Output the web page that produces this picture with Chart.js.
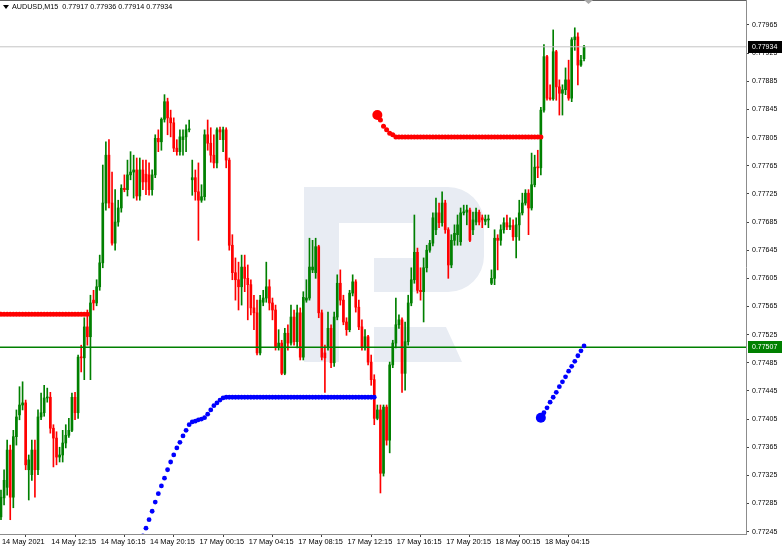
<!DOCTYPE html>
<html>
<head>
<meta charset="utf-8">
<script src="https://cdn.jsdelivr.net/npm/chart.js@4.4.1/dist/chart.umd.min.js"></script>
<style>
body { margin: 0; background: #fff; }
canvas { display: block; }
</style>
</head>
<body>
<canvas id="grafico" width="782" height="550"></canvas>
<script>
const SIMBOLO = "AUDUSD,M15"
const Y_MIN = 0.772417
const Y_MAX = 0.780005
const X_MIN = -0.32
const X_MAX = 241.5

// velas M15, uma por barra
const opens = [
	0.77266, 0.77293, 0.77308, 0.77361, 0.77294, 0.77380, 0.77411, 0.77425, 0.77428, 0.77333,
	0.77326, 0.77361, 0.77333, 0.77408, 0.77414, 0.77435, 0.77436, 0.77392, 0.77378, 0.77351,
	0.77354, 0.77371, 0.77382, 0.77389, 0.77436, 0.77414, 0.77493, 0.77492, 0.77536, 0.77522,
	0.77574, 0.77570, 0.77593, 0.77627, 0.77712, 0.77780, 0.77712, 0.77655, 0.77685, 0.77705,
	0.77733, 0.77731, 0.77752, 0.77756, 0.77759, 0.77722, 0.77759, 0.77753, 0.77752, 0.77731,
	0.77752, 0.77804, 0.77799, 0.77831, 0.77856, 0.77833, 0.77826, 0.77790, 0.77785, 0.77802,
	0.77806, 0.77816, 0.77745, 0.77748, 0.77728, 0.77716, 0.77721, 0.77809, 0.77797, 0.77780,
	0.77769, 0.77816, 0.77802, 0.77816, 0.77773, 0.77652, 0.77613, 0.77603, 0.77593, 0.77621,
	0.77605, 0.77596, 0.77563, 0.77556, 0.77499, 0.77571, 0.77577, 0.77593, 0.77570, 0.77560,
	0.77507, 0.77513, 0.77470, 0.77527, 0.77513, 0.77550, 0.77515, 0.77556, 0.77493, 0.77574,
	0.77577, 0.77617, 0.77613, 0.77650, 0.77556, 0.77499, 0.77507, 0.77534, 0.77485, 0.77550,
	0.77598, 0.77574, 0.77543, 0.77532, 0.77584, 0.77600, 0.77564, 0.77536, 0.77507, 0.77522,
	0.77486, 0.77461, 0.77406, 0.77418, 0.77328, 0.77422, 0.77375, 0.77482, 0.77513, 0.77539,
	0.77546, 0.77470, 0.77515, 0.77570, 0.77603, 0.77642, 0.77588, 0.77586, 0.77620, 0.77645,
	0.77655, 0.77674, 0.77698, 0.77684, 0.77712, 0.77674, 0.77624, 0.77659, 0.77667, 0.77657,
	0.77698, 0.77699, 0.77702, 0.77674, 0.77685, 0.77699, 0.77691, 0.77686, 0.77688, 0.77598,
	0.77605, 0.77662, 0.77659, 0.77674, 0.77684, 0.77678, 0.77680, 0.77664, 0.77681, 0.77698,
	0.77712, 0.77726, 0.77705, 0.77738, 0.77763, 0.77762, 0.77844, 0.77920, 0.77861, 0.77860,
	0.77927, 0.77877, 0.77868, 0.77873, 0.77887, 0.77861, 0.77944, 0.77948, 0.77908, 0.77917,
]
const highs = [
	0.77304, 0.77333, 0.77375, 0.77368, 0.77389, 0.77418, 0.77451, 0.77458, 0.77432, 0.77354,
	0.77375, 0.77375, 0.77418, 0.77442, 0.77453, 0.77449, 0.77443, 0.77397, 0.77387, 0.77365,
	0.77389, 0.77397, 0.77406, 0.77442, 0.77443, 0.77496, 0.77510, 0.77549, 0.77560, 0.77581,
	0.77588, 0.77603, 0.77638, 0.77766, 0.77799, 0.77802, 0.77756, 0.77731, 0.77716, 0.77738,
	0.77752, 0.77773, 0.77785, 0.77780, 0.77776, 0.77776, 0.77773, 0.77773, 0.77769, 0.77759,
	0.77809, 0.77816, 0.77833, 0.77866, 0.77861, 0.77844, 0.77833, 0.77802, 0.77816, 0.77816,
	0.77823, 0.77830, 0.77773, 0.77759, 0.77769, 0.77738, 0.77816, 0.77830, 0.77819, 0.77809,
	0.77819, 0.77820, 0.77820, 0.77819, 0.77776, 0.77667, 0.77634, 0.77628, 0.77638, 0.77638,
	0.77624, 0.77603, 0.77581, 0.77574, 0.77581, 0.77588, 0.77628, 0.77603, 0.77577, 0.77567,
	0.77532, 0.77517, 0.77534, 0.77539, 0.77567, 0.77560, 0.77567, 0.77563, 0.77586, 0.77603,
	0.77662, 0.77659, 0.77662, 0.77652, 0.77560, 0.77510, 0.77557, 0.77539, 0.77557, 0.77610,
	0.77617, 0.77581, 0.77549, 0.77588, 0.77610, 0.77603, 0.77574, 0.77546, 0.77532, 0.77524,
	0.77496, 0.77468, 0.77425, 0.77425, 0.77425, 0.77425, 0.77486, 0.77517, 0.77577, 0.77553,
	0.77549, 0.77543, 0.77581, 0.77620, 0.77695, 0.77648, 0.77620, 0.77634, 0.77652, 0.77659,
	0.77698, 0.77719, 0.77712, 0.77728, 0.77716, 0.77677, 0.77667, 0.77681, 0.77695, 0.77705,
	0.77709, 0.77709, 0.77705, 0.77699, 0.77705, 0.77702, 0.77695, 0.77695, 0.77695, 0.77617,
	0.77674, 0.77667, 0.77681, 0.77691, 0.77695, 0.77691, 0.77688, 0.77691, 0.77716, 0.77726,
	0.77731, 0.77731, 0.77783, 0.77780, 0.77787, 0.77848, 0.77937, 0.77922, 0.77880, 0.77958,
	0.77929, 0.77887, 0.77880, 0.77904, 0.77915, 0.77947, 0.77961, 0.77954, 0.77922, 0.77936,
]
const lows = [
	0.77262, 0.77283, 0.77297, 0.77262, 0.77279, 0.77368, 0.77404, 0.77418, 0.77333, 0.77290,
	0.77318, 0.77294, 0.77326, 0.77404, 0.77409, 0.77429, 0.77385, 0.77337, 0.77340, 0.77344,
	0.77344, 0.77364, 0.77379, 0.77387, 0.77404, 0.77406, 0.77472, 0.77461, 0.77510, 0.77461,
	0.77560, 0.77566, 0.77588, 0.77620, 0.77702, 0.77705, 0.77652, 0.77645, 0.77679, 0.77699,
	0.77728, 0.77722, 0.77745, 0.77719, 0.77716, 0.77716, 0.77731, 0.77724, 0.77723, 0.77723,
	0.77748, 0.77785, 0.77787, 0.77827, 0.77809, 0.77806, 0.77785, 0.77780, 0.77780, 0.77780,
	0.77785, 0.77813, 0.77723, 0.77716, 0.77659, 0.77713, 0.77716, 0.77787, 0.77770, 0.77762,
	0.77762, 0.77802, 0.77785, 0.77762, 0.77645, 0.77603, 0.77574, 0.77560, 0.77567, 0.77586,
	0.77546, 0.77553, 0.77532, 0.77496, 0.77496, 0.77566, 0.77571, 0.77560, 0.77546, 0.77503,
	0.77503, 0.77468, 0.77468, 0.77503, 0.77510, 0.77510, 0.77506, 0.77489, 0.77489, 0.77571,
	0.77574, 0.77613, 0.77605, 0.77549, 0.77489, 0.77443, 0.77503, 0.77478, 0.77480, 0.77546,
	0.77567, 0.77539, 0.77524, 0.77529, 0.77580, 0.77557, 0.77532, 0.77503, 0.77503, 0.77482,
	0.77453, 0.77397, 0.77404, 0.77300, 0.77324, 0.77368, 0.77357, 0.77478, 0.77506, 0.77534,
	0.77443, 0.77446, 0.77510, 0.77566, 0.77598, 0.77584, 0.77574, 0.77543, 0.77614, 0.77642,
	0.77651, 0.77667, 0.77677, 0.77679, 0.77669, 0.77605, 0.77620, 0.77652, 0.77652, 0.77652,
	0.77695, 0.77681, 0.77657, 0.77667, 0.77681, 0.77681, 0.77677, 0.77681, 0.77677, 0.77596,
	0.77596, 0.77617, 0.77652, 0.77669, 0.77674, 0.77674, 0.77659, 0.77634, 0.77659, 0.77695,
	0.77709, 0.77667, 0.77702, 0.77735, 0.77748, 0.77752, 0.77841, 0.77858, 0.77858, 0.77858,
	0.77858, 0.77837, 0.77837, 0.77866, 0.77858, 0.77856, 0.77929, 0.77880, 0.77906, 0.77914,
]
const closes = [
	0.77294, 0.77318, 0.77361, 0.77294, 0.77380, 0.77408, 0.77425, 0.77428, 0.77340, 0.77347,
	0.77361, 0.77333, 0.77408, 0.77414, 0.77435, 0.77436, 0.77392, 0.77378, 0.77351, 0.77354,
	0.77371, 0.77382, 0.77389, 0.77436, 0.77414, 0.77493, 0.77492, 0.77536, 0.77522, 0.77570,
	0.77570, 0.77593, 0.77627, 0.77712, 0.77780, 0.77712, 0.77655, 0.77685, 0.77705, 0.77733,
	0.77731, 0.77752, 0.77756, 0.77759, 0.77722, 0.77759, 0.77742, 0.77742, 0.77731, 0.77752,
	0.77804, 0.77799, 0.77831, 0.77856, 0.77833, 0.77826, 0.77790, 0.77785, 0.77806, 0.77806,
	0.77816, 0.77817, 0.77748, 0.77728, 0.77716, 0.77721, 0.77809, 0.77797, 0.77780, 0.77769,
	0.77816, 0.77813, 0.77816, 0.77773, 0.77652, 0.77613, 0.77603, 0.77593, 0.77621, 0.77605,
	0.77596, 0.77563, 0.77556, 0.77499, 0.77574, 0.77577, 0.77593, 0.77570, 0.77560, 0.77507,
	0.77513, 0.77470, 0.77527, 0.77513, 0.77550, 0.77515, 0.77556, 0.77493, 0.77578, 0.77577,
	0.77621, 0.77621, 0.77650, 0.77556, 0.77493, 0.77492, 0.77534, 0.77485, 0.77550, 0.77598,
	0.77574, 0.77543, 0.77532, 0.77584, 0.77600, 0.77564, 0.77536, 0.77507, 0.77522, 0.77486,
	0.77461, 0.77406, 0.77418, 0.77328, 0.77422, 0.77375, 0.77482, 0.77513, 0.77539, 0.77546,
	0.77470, 0.77515, 0.77570, 0.77603, 0.77642, 0.77588, 0.77586, 0.77620, 0.77645, 0.77655,
	0.77691, 0.77698, 0.77684, 0.77712, 0.77674, 0.77624, 0.77659, 0.77669, 0.77681, 0.77698,
	0.77699, 0.77702, 0.77659, 0.77688, 0.77699, 0.77685, 0.77688, 0.77689, 0.77689, 0.77605,
	0.77662, 0.77659, 0.77674, 0.77684, 0.77678, 0.77680, 0.77664, 0.77681, 0.77698, 0.77712,
	0.77726, 0.77705, 0.77738, 0.77763, 0.77762, 0.77844, 0.77920, 0.77861, 0.77860, 0.77927,
	0.77877, 0.77868, 0.77873, 0.77887, 0.77861, 0.77944, 0.77948, 0.77908, 0.77915, 0.77934,
]

// linhas de stop (pontos), cada uma comeca numa barra
const redStop1From = 0
const redStop1 = [
	0.77554, 0.77554, 0.77554, 0.77554, 0.77554, 0.77554, 0.77554, 0.77554, 0.77554, 0.77554,
	0.77554, 0.77554, 0.77554, 0.77554, 0.77554, 0.77554, 0.77554, 0.77554, 0.77554, 0.77554,
	0.77554, 0.77554, 0.77554, 0.77554, 0.77554, 0.77554, 0.77554, 0.77554, 0.77554,
]
const redStop2From = 122
const redStop2 = [
	0.77837, 0.77830, 0.77821, 0.77816, 0.77811, 0.77809,
	0.77806, 0.77806, 0.77806, 0.77806, 0.77806, 0.77806, 0.77806, 0.77806,
	0.77806, 0.77806, 0.77806, 0.77806, 0.77806, 0.77806, 0.77806, 0.77806,
	0.77806, 0.77806, 0.77806, 0.77806, 0.77806, 0.77806, 0.77806, 0.77806,
	0.77806, 0.77806, 0.77806, 0.77806, 0.77806, 0.77806, 0.77806, 0.77806,
	0.77806, 0.77806, 0.77806, 0.77806, 0.77806, 0.77806, 0.77806, 0.77806,
	0.77806, 0.77806, 0.77806, 0.77806, 0.77806, 0.77806, 0.77806, 0.77806,
]
const blueStop1From = 46
const blueStop1 = [
	0.77239, 0.77250, 0.77262, 0.77274, 0.77287, 0.77299, 0.77310, 0.77321, 0.77333, 0.77344,
	0.77354, 0.77364, 0.77372, 0.77381, 0.77389, 0.77397, 0.77401, 0.77402, 0.77404, 0.77405,
	0.77407, 0.77412, 0.77418, 0.77424, 0.77428, 0.77432, 0.77435,
	0.77436, 0.77436, 0.77436, 0.77436, 0.77436, 0.77436, 0.77436, 0.77436, 0.77436, 0.77436,
	0.77436, 0.77436, 0.77436, 0.77436, 0.77436, 0.77436, 0.77436, 0.77436, 0.77436, 0.77436,
	0.77436, 0.77436, 0.77436, 0.77436, 0.77436, 0.77436, 0.77436, 0.77436, 0.77436, 0.77436,
	0.77436, 0.77436, 0.77436, 0.77436, 0.77436, 0.77436, 0.77436, 0.77436, 0.77436, 0.77436,
	0.77436, 0.77436, 0.77436, 0.77436, 0.77436, 0.77436, 0.77436, 0.77436, 0.77436,
]
const blueStop2From = 175
const blueStop2 = [
	0.77407, 0.77414, 0.77421, 0.77429, 0.77436, 0.77443, 0.77451, 0.77458,
	0.77465, 0.77473, 0.77480, 0.77487, 0.77495, 0.77502, 0.77509,
]

const bidPrice = 0.77934
const levelPrice = 0.77507

const yTicks = [
	0.77245, 0.77285, 0.77325, 0.77365, 0.77405, 0.77445, 0.77485, 0.77525, 0.77565, 0.77605,
	0.77645, 0.77685, 0.77725, 0.77765, 0.77805, 0.77845, 0.77885, 0.77925, 0.77965,
]
const xTickBars = [0, 16, 32, 48, 64, 80, 96, 112, 128, 144, 160, 176]
const xTickLabels = [
	"14 May 2021", "14 May 12:15", "14 May 16:15", "14 May 20:15", "17 May 00:15", "17 May 04:15",
	"17 May 08:15", "17 May 12:15", "17 May 16:15", "17 May 20:15", "18 May 00:15", "18 May 04:15",
]

const VERDE = "#008000"
const VERMELHO = "#ff0000"
const AZUL = "#0000ff"
const FONTE = "'Liberation Sans', Arial, sans-serif"

var corVela = closes.map((c, i) => (c >= opens[i] ? VERDE : VERMELHO))

function pontos(from, valores) {
	return valores.map((v, k) => ({ x: from + k, y: v }))
}

function dsPontos(from, valores, cor, raio, grande) {
	return {
		type: "line",
		data: pontos(from, valores),
		showLine: false,
		pointRadius: (c) => (grande && c.dataIndex == 0 ? 5 : raio),
		pointBackgroundColor: cor,
		pointBorderWidth: 0,
		order: 0,
	}
}

function dsNivel(valor, cor, largura) {
	return {
		type: "line",
		data: [
			{ x: X_MIN, y: valor },
			{ x: X_MAX, y: valor },
		],
		borderColor: cor,
		borderWidth: largura,
		pointRadius: 0,
		order: 1,
	}
}

// marca d'agua, moldura, cabecalho e etiquetas de preco
const decoracao = {
	id: "decoracao",
	beforeDatasetsDraw(chart) {
		const ctx = chart.ctx
		ctx.save()
		ctx.fillStyle = "#e8ecf3"
		ctx.beginPath()
		ctx.moveTo(304, 187)
		ctx.lineTo(448, 187)
		ctx.arcTo(484, 187, 484, 222, 36)
		ctx.lineTo(484, 256)
		ctx.arcTo(484, 292, 448, 292, 36)
		ctx.lineTo(339, 292)
		ctx.lineTo(339, 362)
		ctx.lineTo(304, 362)
		ctx.closePath()
		ctx.fill()
		ctx.fillStyle = "#fff"
		ctx.fillRect(339, 223, 74, 35)
		ctx.fillRect(339, 258, 35, 34)
		ctx.fillStyle = "#e8ecf3"
		ctx.beginPath()
		ctx.moveTo(374, 327)
		ctx.lineTo(446, 327)
		ctx.lineTo(462, 362)
		ctx.lineTo(374, 362)
		ctx.closePath()
		ctx.fill()
		ctx.restore()
	},
	afterDraw(chart) {
		const ctx = chart.ctx
		const area = chart.chartArea
		const y = chart.scales.y
		ctx.save()

		// moldura de cima
		ctx.strokeStyle = "#606060"
		ctx.lineWidth = 1
		ctx.beginPath()
		ctx.moveTo(0, 0.5)
		ctx.lineTo(area.right, 0.5)
		ctx.stroke()

		// triangulo do deslocamento
		ctx.fillStyle = "#a8a8a8"
		ctx.beginPath()
		ctx.moveTo(584, 0)
		ctx.lineTo(593, 0)
		ctx.lineTo(588.5, 4)
		ctx.closePath()
		ctx.fill()

		// cabecalho
		const n = closes.length - 1
		ctx.fillStyle = "#000"
		ctx.beginPath()
		ctx.moveTo(3, 5)
		ctx.lineTo(9, 5)
		ctx.lineTo(6, 9)
		ctx.closePath()
		ctx.fill()
		ctx.font = "7.2px " + FONTE
		ctx.textBaseline = "middle"
		ctx.textAlign = "left"
		const txt =
			SIMBOLO + "  " +
			[opens[n], highs[n], lows[n], closes[n]].map((v) => v.toFixed(5)).join(" ")
		ctx.fillText(txt, 12, 7)

		// etiquetas no eixo
		function etiqueta(valor, fundo) {
			const py = Math.round(y.getPixelForValue(valor))
			ctx.fillStyle = fundo
			ctx.fillRect(area.right + 2, py - 6, 36, 12)
			ctx.fillStyle = "#fff"
			ctx.font = "7px " + FONTE
			ctx.fillText(valor.toFixed(5), area.right + 6, py + 0.5)
		}
		etiqueta(bidPrice, "#000")
		etiqueta(levelPrice, VERDE)
		ctx.restore()
	},
}

var grafico = new Chart(document.getElementById("grafico"), {
	type: "bar",
	data: {
		datasets: [
			dsPontos(redStop1From, redStop1, VERMELHO, 2.5, false),
			dsPontos(redStop2From, redStop2, VERMELHO, 2.5, true),
			dsPontos(blueStop1From, blueStop1, AZUL, 2.4, false),
			dsPontos(blueStop2From, blueStop2, AZUL, 2.4, true),
			dsNivel(bidPrice, "#c4c4c4", 1),
			dsNivel(levelPrice, VERDE, 1.5),
			{
				// corpos
				data: opens.map((o, i) => ({ x: i, y: [o, closes[i]] })),
				backgroundColor: corVela,
				barThickness: 2,
				minBarLength: 1,
				grouped: false,
				order: 2,
			},
			{
				// pavios
				data: lows.map((l, i) => ({ x: i, y: [l, highs[i]] })),
				backgroundColor: corVela,
				barThickness: 1,
				grouped: false,
				order: 3,
			},
		],
	},
	options: {
		responsive: false,
		animation: false,
		layout: { padding: 0, autoPadding: false },
		plugins: {
			legend: { display: false },
			tooltip: { enabled: false },
		},
		scales: {
			x: {
				type: "linear",
				min: X_MIN,
				max: X_MAX,
				offset: false,
				afterBuildTicks: (s) => {
					s.ticks = xTickBars.map((b) => ({ value: b }))
				},
				afterFit: (s) => {
					s.height = 16
					s.paddingLeft = 0
					s.paddingRight = 0
				},
				ticks: {
					autoSkip: false,
					maxRotation: 0,
					align: "start",
					padding: 1,
					labelOffset: 1,
					color: "#000",
					font: { family: FONTE, size: 7.4 },
					callback: (v) => xTickLabels[xTickBars.indexOf(v)],
				},
				grid: {
					drawOnChartArea: false,
					drawTicks: true,
					tickLength: 3,
					tickColor: "#444",
				},
				border: { display: true, color: "#8c8c8c" },
			},
			y: {
				type: "linear",
				position: "right",
				min: Y_MIN,
				max: Y_MAX,
				afterBuildTicks: (s) => {
					s.ticks = yTicks.map((v) => ({ value: v }))
				},
				afterFit: (s) => {
					s.width = 36
					s.paddingTop = 0
					s.paddingBottom = 0
				},
				ticks: {
					padding: 3,
					color: "#000",
					font: { family: FONTE, size: 7 },
					callback: (v) => v.toFixed(5),
				},
				grid: {
					drawOnChartArea: false,
					drawTicks: true,
					tickLength: 3,
					tickColor: "#444",
				},
				border: { display: true, color: "#8c8c8c" },
			},
		},
	},
	plugins: [decoracao],
})
</script>
</body>
</html>
